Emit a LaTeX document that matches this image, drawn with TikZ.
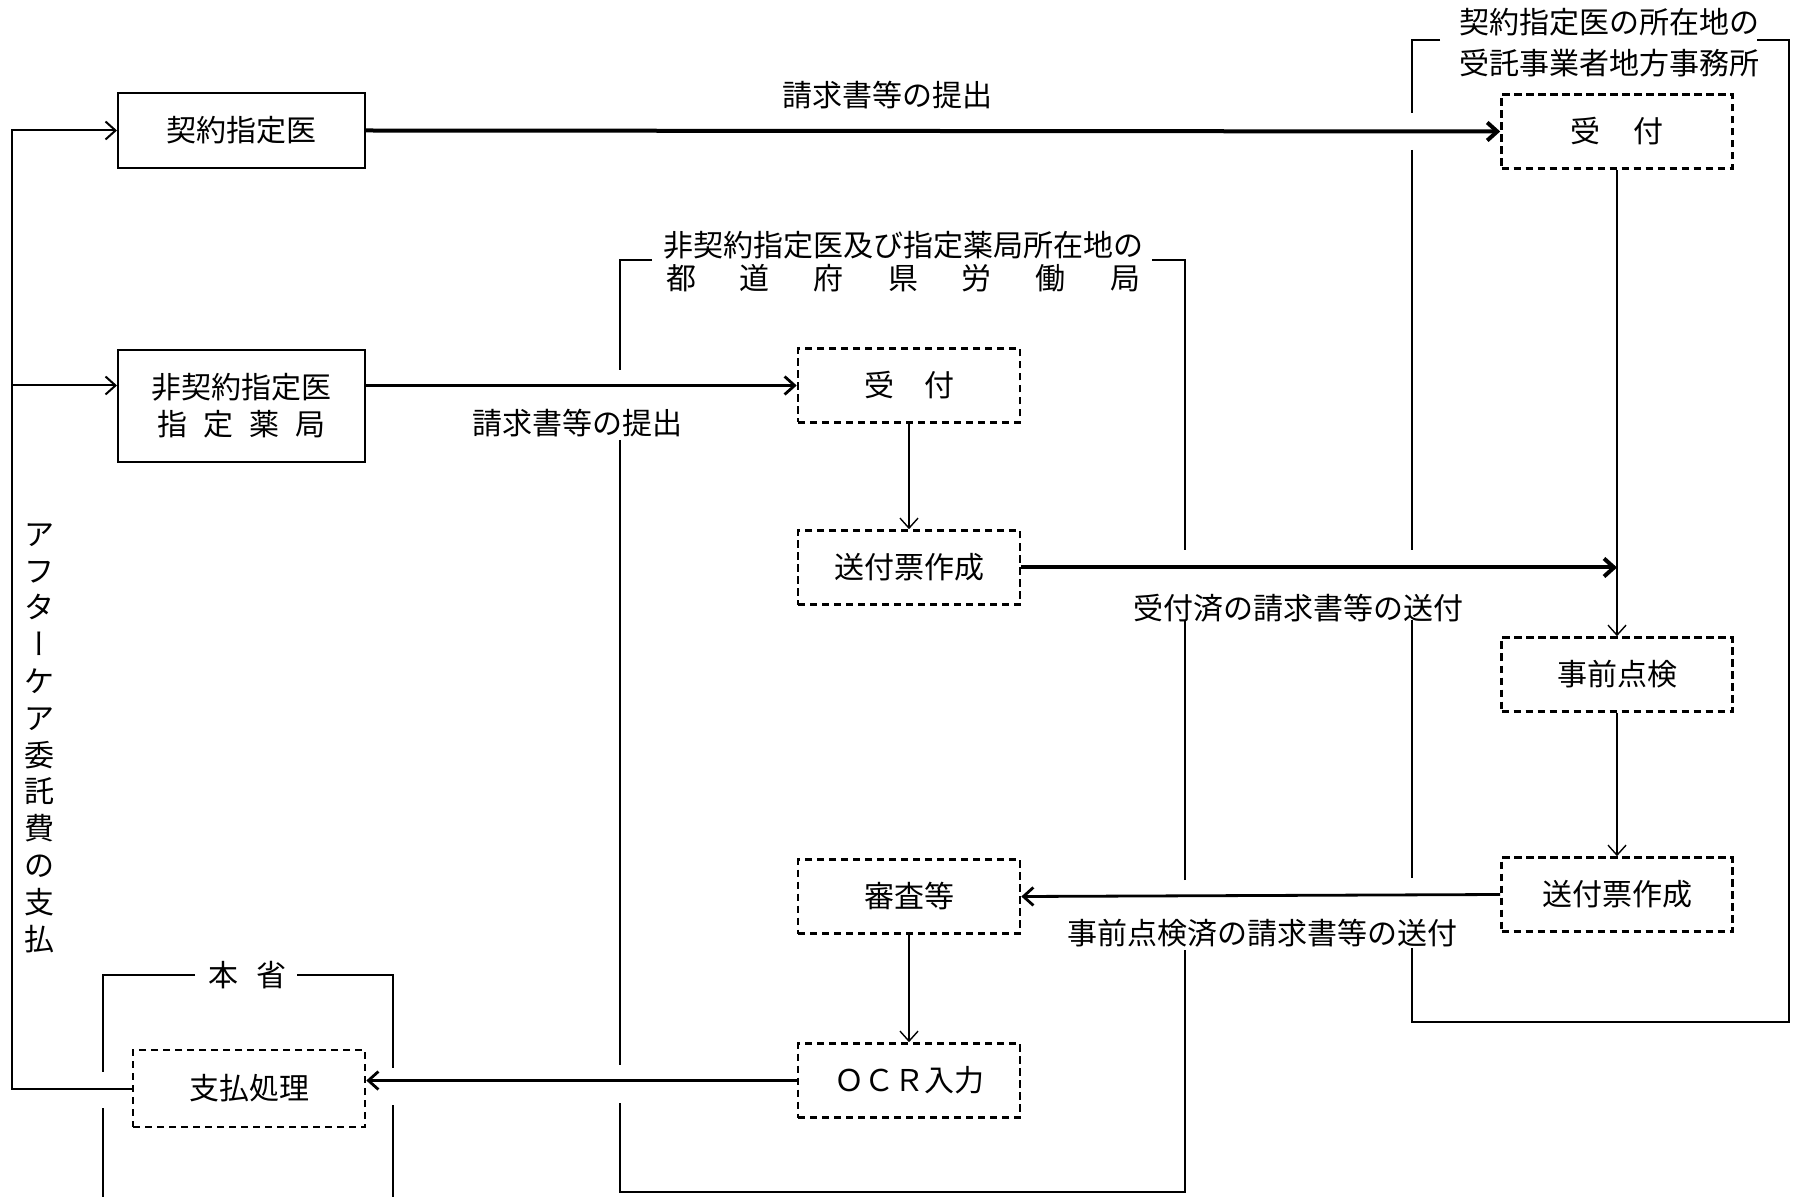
\documentclass[tikz,border=0pt]{standalone}
\usepackage{fontspec}
\newfontfamily\cjk{Noto Sans CJK JP}
\newfontfamily\cjkvert[RawFeature=+vert]{Noto Sans CJK JP}
\usetikzlibrary{arrows.meta}
\begin{document}
\begin{tikzpicture}[x=0.5pt,y=-0.5pt,
  font=\cjk\fontsize{15}{18.5}\selectfont,
  solidbox/.style={draw, line width=1pt, inner sep=0pt, align=center},
  dbox/.style={draw, line width=1.3pt, dash pattern=on 3.6pt off 2.4pt, inner sep=0pt,
               minimum width=111pt, minimum height=37pt},
  rbox/.style={dbox, minimum width=115.5pt},
  frameline/.style={line width=0.8pt},
  lbl/.style={inner sep=0pt},
  barb/.style={-{Straight Barb[length=5pt,width=9pt]}},
  bigarr/.style={barb, line width=2pt},
  midarr/.style={barb, line width=1.4pt},
  thinarr/.style={barb, line width=0.7pt},
  backline/.style={barb, line width=1pt}]
\useasboundingbox (0,0) rectangle (1793,1197);
\fill[white] (0,0) rectangle (1793,1197);

% ---- boxes ----
\node[solidbox, minimum width=123.5pt, minimum height=37.5pt] (keiyaku) at (241.5,130.5) {契約指定医};
\node[solidbox, minimum width=123.5pt, minimum height=56pt] (hikeiyaku) at (241.5,406)
  {非契約指定医\\\makebox[84pt][s]{指\hfil 定\hfil 薬\hfil 局}};

\node[rbox] (uke2) at (1617,131.5) {受\hspace{1.1em}付};
\node[rbox] (jizen) at (1617,674.5) {事前点検};
\node[rbox] (soufu2) at (1617,894.5) {送付票作成};

\node[dbox] (uke1) at (909,385.5) {受\hspace{1em}付};
\node[dbox] (soufu1) at (909,567.5) {送付票作成};
\node[dbox] (shinsa) at (909,896.5) {審査等};
\node[dbox] (ocr) at (909,1080.5) {ＯＣＲ入力};

\node[dbox, minimum width=116pt, minimum height=38.5pt] (shiharai) at (249,1088.5) {支払処理};

% ---- frame titles ----
\node[lbl] (rt1) at (1609,22) {契約指定医の所在地の};
\node[lbl] (rt2) at (1609,63) {受託事業者地方事務所};
\node[lbl] (mt1) at (903,245) {非契約指定医及び指定薬局所在地の};
\node[lbl] (mt2) at (903,278) {\makebox[237pt][s]{都\hfil 道\hfil 府\hfil 県\hfil 労\hfil 働\hfil 局}};
\node[lbl] (honsho) at (247,975) {本\hspace{0.6em}省};

% ---- vertical text ----
\node[lbl, align=center, font=\cjk\fontsize{15}{18.4}\selectfont] (vtext) at (40,738)
  {ア\\フ\\タ\\{\cjkvert ー}\\ケ\\ア\\委\\託\\費\\の\\支\\払};

% ---- connector labels ----
\node[lbl] (lab1) at (887,95) {請求書等の提出};
\node[lbl] (lab2) at (577,423) {請求書等の提出};
\node[lbl] (lab3) at (1298,608) {受付済の請求書等の送付};
\node[lbl] (lab4) at (1262,933) {事前点検済の請求書等の送付};

% ---- frames ----
\draw[frameline] (1440,40) -- (1412,40) -- (1412,113);
\draw[frameline] (1412,150) -- (1412,550);
\draw[frameline] (1412,620) -- (1412,878);
\draw[frameline] (1412,948) -- (1412,1022) -- (1789,1022) -- (1789,40) -- (1757,40);

\draw[frameline] (652,260) -- (620,260) -- (620,370);
\draw[frameline] (620,440) -- (620,1065);
\draw[frameline] (620,1103) -- (620,1192) -- (1185,1192) -- (1185,950);
\draw[frameline] (1185,880) -- (1185,620);
\draw[frameline] (1185,550) -- (1185,260) -- (1152,260);

\draw[frameline] (195,975) -- (103,975) -- (103,1072);
\draw[frameline] (103,1108) -- (103,1197);
\draw[frameline] (297,975) -- (393,975) -- (393,1068);
\draw[frameline] (393,1105) -- (393,1197);

% ---- connectors ----
\draw[bigarr] (keiyaku.east) -- (uke2.west);
\draw[midarr] (hikeiyaku.east |- uke1.west) -- (uke1.west);
\draw[thinarr] (uke1.south) -- (soufu1.north);
\coordinate (join) at (uke2.south |- soufu1.east);
\draw[bigarr] (soufu1.east) -- (join);
\draw[thinarr] (uke2.south) -- (jizen.north);
\draw[thinarr] (jizen.south) -- (soufu2.north);
\draw[midarr] (soufu2.west) -- (shinsa.east);
\draw[thinarr] (shinsa.south) -- (ocr.north);
\draw[midarr] (ocr.west) -- (ocr.west -| shiharai.east);

\coordinate (ltop) at (12,130.5);
\draw[backline] (shiharai.west) -| (ltop) -- (keiyaku.west);
\draw[backline] (ltop |- uke1.west) -- (hikeiyaku.west |- uke1.west);
\end{tikzpicture}
\end{document}
